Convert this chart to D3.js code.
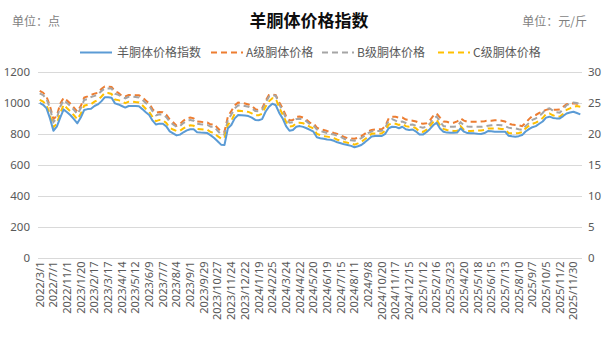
<!DOCTYPE html>
<html><head><meta charset="utf-8">
<script src="https://cdn.jsdelivr.net/npm/d3@7"></script>
<style>
html,body{margin:0;padding:0;background:#fff;}
svg{display:block;font-family:"Noto Sans CJK SC","Noto Sans",sans-serif;}
</style></head>
<body><svg id="c" width="608" height="341"></svg>
<script>
const title = "羊胴体价格指数";
const leftUnit = "单位：点";
const rightUnit = "单位：元/斤";
const seriesNames = ["羊胴体价格指数","A级胴体价格","B级胴体价格","C级胴体价格"];
const seriesColors = ["#5B9BD5","#ED7D31","#A5A5A5","#FFC000"];
const tickLabels = ["2022/3/1","2022/7/1","2022/11/1","2023/1/20","2023/2/17","2023/3/17","2023/4/14","2023/5/12","2023/6/9","2023/7/7","2023/8/4","2023/9/1","2023/9/29","2023/10/27","2023/11/24","2023/12/22","2024/1/19","2024/2/25","2024/3/24","2024/4/22","2024/5/20","2024/6/19","2024/7/15","2024/8/11","2024/9/8","2024/10/20","2024/11/17","2024/12/15","2025/1/12","2025/2/16","2025/3/23","2025/4/20","2025/5/18","2025/6/15","2025/7/13","2025/8/10","2025/9/7","2025/10/5","2025/11/2","2025/11/30"];
const tickEvery = 4;
const leftTicks = [0,200,400,600,800,1000,1200];
const rightTicks = [0,5,10,15,20,25,30];

const indexValues = [1000,988,965,900,820,846,905,958,940,920,895,868,905,954,960,962,980,990,1010,1036,1036,1033,997,990,980,970,980,980,980,978,960,940,922,885,860,866,865,848,816,803,790,795,810,822,830,830,810,808,807,805,790,773,752,730,728,836,857,900,922,920,918,915,905,890,888,895,943,975,995,985,935,900,850,820,825,846,850,845,836,825,814,778,772,768,764,762,755,745,739,732,728,722,713,720,728,745,764,783,786,786,786,800,836,846,845,836,846,830,825,828,815,795,795,810,830,855,872,835,814,808,807,807,808,836,814,805,803,803,800,799,805,818,816,814,814,814,814,788,784,781,785,792,815,830,843,850,865,880,905,911,903,900,900,915,932,938,943,935,926];
const gradeA = [26.95,26.65,26.00,24.50,22.38,22.90,24.88,25.83,25.38,24.88,24.25,23.58,24.50,25.85,26.05,26.30,26.50,26.63,27.25,27.65,27.60,27.58,26.88,26.63,26.13,26.05,26.30,26.30,26.25,26.25,25.88,25.38,24.93,24.00,23.40,23.53,23.50,23.08,22.33,21.88,21.30,21.58,22.13,22.50,22.63,22.50,22.00,21.95,21.88,21.83,21.50,21.58,20.93,20.38,20.33,22.78,23.68,24.63,25.05,25.00,24.90,24.75,24.50,24.00,23.85,24.13,25.33,26.28,26.38,26.25,25.13,24.13,22.88,22.20,22.25,22.75,22.80,22.63,22.25,21.80,21.70,21.00,20.75,20.63,20.45,20.30,20.13,20.00,19.75,19.50,19.28,19.25,19.20,19.38,19.63,20.00,20.38,20.63,20.70,20.73,20.75,21.25,22.50,22.78,22.75,22.63,22.63,22.30,22.23,22.13,22.00,21.75,21.63,21.70,22.13,22.88,23.30,22.63,22.00,21.95,21.75,21.80,22.00,22.50,22.13,21.95,21.95,21.95,21.95,22.00,22.05,22.13,22.13,22.20,22.23,22.13,22.00,21.63,21.50,21.43,21.38,21.25,21.75,22.38,22.88,23.05,23.38,23.63,23.88,24.00,23.88,23.88,23.95,24.38,24.78,24.88,24.93,24.88,24.63];
const gradeB = [26.55,26.25,25.63,24.13,21.88,22.53,24.38,25.45,25.00,24.50,23.88,23.20,24.13,25.48,25.63,25.93,26.13,26.38,26.88,27.35,27.35,27.33,26.48,26.30,26.00,25.75,26.00,26.00,25.95,25.88,25.50,25.00,24.55,23.63,23.00,23.15,23.13,22.70,21.95,21.50,21.13,21.25,21.75,22.05,22.25,22.13,21.63,21.55,21.50,21.45,21.13,21.13,20.50,19.88,19.88,22.25,23.13,24.13,24.63,24.55,24.50,24.38,24.13,23.70,23.63,23.88,25.00,26.00,26.30,26.13,24.75,23.75,22.50,21.80,21.88,22.38,22.45,22.30,22.00,21.55,21.38,20.70,20.45,20.30,20.13,20.00,19.88,19.70,19.50,19.20,19.00,18.95,18.88,19.05,19.30,19.70,20.13,20.38,20.45,20.45,20.50,21.00,22.13,22.38,22.13,21.88,22.00,21.75,21.45,21.50,21.30,21.13,21.00,21.13,21.63,22.38,22.80,22.00,21.25,21.15,21.15,21.15,21.20,21.88,21.38,21.20,21.15,21.15,21.13,21.13,21.20,21.30,21.38,21.43,21.43,21.38,21.25,21.00,20.90,20.90,20.75,20.63,21.25,21.75,22.25,22.50,22.88,23.38,24.00,24.13,23.75,23.50,23.43,24.00,24.63,24.88,25.05,25.00,24.75];
const gradeC = [25.50,25.20,24.68,23.00,21.05,21.65,23.33,24.70,24.13,23.63,23.00,22.35,23.25,24.55,24.70,24.80,25.20,25.45,26.00,26.60,26.60,26.45,25.55,25.45,25.25,24.95,25.20,25.20,25.13,25.08,24.63,24.05,23.58,22.70,22.05,22.25,22.20,21.75,21.00,20.70,20.45,20.50,20.88,21.20,21.38,21.30,20.80,20.75,20.70,20.65,20.30,20.13,19.63,19.25,19.30,21.45,22.13,23.25,23.75,23.70,23.63,23.55,23.30,23.00,23.00,23.25,24.38,25.25,25.75,25.70,24.25,23.13,21.95,21.20,21.25,21.75,21.80,21.70,21.45,21.13,20.88,20.00,19.80,19.63,19.55,19.45,19.30,19.05,18.88,18.70,18.55,18.45,18.25,18.45,18.70,19.13,19.55,20.00,20.05,20.05,20.08,20.50,21.50,21.70,21.63,21.45,21.63,21.25,21.13,21.13,20.88,20.38,20.30,20.63,21.20,21.88,22.25,21.38,20.80,20.63,20.55,20.45,20.50,21.25,20.63,20.45,20.45,20.50,20.55,20.55,20.63,20.88,20.88,20.88,20.88,20.80,20.75,20.13,20.08,20.08,20.13,20.25,20.88,21.30,21.63,21.80,22.13,22.55,23.20,23.30,23.00,22.80,22.78,23.25,23.88,24.13,24.38,24.50,24.38];

const categories = d3.range(indexValues.length);

const svg = d3.select("#c");
const plot = {left:38, right:582, top:72, bottom:257.5};
const x = d3.scaleBand().domain(categories).range([plot.left, plot.right]).paddingInner(0).paddingOuter(0);
const yL = d3.scaleLinear().domain([0,1200]).range([plot.bottom, plot.top]);
const yR = d3.scaleLinear().domain([0,30]).range([plot.bottom, plot.top]);
const cx = i => x(i) + x.bandwidth()/2;

// title & units
svg.append("text").attr("x",309).attr("y",27).attr("text-anchor","middle")
  .attr("font-size",17).attr("font-weight",700).attr("fill","#0d0d0d").text(title);
svg.append("text").attr("x",12).attr("y",26).attr("font-size",12).attr("fill","#7f7f7f").text(leftUnit);
svg.append("text").attr("x",587).attr("y",26).attr("text-anchor","end").attr("font-size",12).attr("fill","#7f7f7f").text(rightUnit);

// gridlines
svg.append("g").selectAll("line").data(leftTicks).join("line")
  .attr("x1",plot.left).attr("x2",plot.right)
  .attr("y1",d=>Math.round(yL(d))+0.5).attr("y2",d=>Math.round(yL(d))+0.5)
  .attr("stroke","#d9d9d9").attr("stroke-width",1);

// left axis
const gL = svg.append("g").attr("transform",`translate(${plot.left-6},0)`)
  .call(d3.axisLeft(yL).tickValues(leftTicks).tickFormat(d3.format("d")).tickSize(0).tickPadding(2));
gL.select(".domain").remove();
gL.selectAll("text").attr("font-size",11.5).attr("fill","#595959").attr("font-family","'Noto Sans','Liberation Sans',sans-serif");

// right axis
const gR = svg.append("g").attr("transform",`translate(${plot.right+4},0)`)
  .call(d3.axisRight(yR).tickValues(rightTicks).tickFormat(d3.format("d")).tickSize(0).tickPadding(2));
gR.select(".domain").remove();
gR.selectAll("text").attr("font-size",11.5).attr("fill","#595959").attr("font-family","'Noto Sans','Liberation Sans',sans-serif");

// bottom axis
const tickCats = categories.filter(i => i % tickEvery === 0 && i/tickEvery < tickLabels.length);
const xAxis = d3.axisBottom(x).tickValues(tickCats).tickSize(0)
  .tickFormat(i => tickLabels[i/tickEvery]);
const gB = svg.append("g").attr("transform",`translate(0,${plot.bottom})`).call(xAxis);
gB.select(".domain").remove();
gB.selectAll("text").attr("font-size",11).attr("fill","#595959")
  .attr("font-family","'Noto Sans','Liberation Sans',sans-serif")
  .attr("text-anchor","end").attr("dy","0.35em")
  .attr("transform","translate(0,4) rotate(-90)").attr("x",0).attr("y",0);

// lines
const lineL = d3.line().x((d,i)=>cx(i)).y(d=>yL(d));
const lineR = d3.line().x((d,i)=>cx(i)).y(d=>yR(d));
const dash = "6,4";
svg.append("path").datum(gradeA).attr("d",lineR).attr("fill","none").attr("stroke",seriesColors[1]).attr("stroke-width",2).attr("stroke-dasharray",dash);
svg.append("path").datum(gradeB).attr("d",lineR).attr("fill","none").attr("stroke",seriesColors[2]).attr("stroke-width",2).attr("stroke-dasharray",dash);
svg.append("path").datum(gradeC).attr("d",lineR).attr("fill","none").attr("stroke",seriesColors[3]).attr("stroke-width",2).attr("stroke-dasharray",dash);
svg.append("path").datum(indexValues).attr("d",lineL).attr("fill","none").attr("stroke",seriesColors[0]).attr("stroke-width",2).attr("stroke-linejoin","round");

// legend
const legendItems = [
  {name:seriesNames[0], color:seriesColors[0], x1:80, dash:null, tx:117},
  {name:seriesNames[1], color:seriesColors[1], x1:211, dash:dash, tx:246},
  {name:seriesNames[2], color:seriesColors[2], x1:322, dash:dash, tx:357},
  {name:seriesNames[3], color:seriesColors[3], x1:438, dash:dash, tx:473}
];
const lg = svg.append("g");
legendItems.forEach(it=>{
  lg.append("line").attr("x1",it.x1).attr("x2",it.x1+32).attr("y1",52.5).attr("y2",52.5)
    .attr("stroke",it.color).attr("stroke-width",2).attr("stroke-dasharray",it.dash);
  lg.append("text").attr("x",it.tx).attr("y",57).attr("font-size",12).attr("fill","#595959").text(it.name);
});
</script></body></html>
